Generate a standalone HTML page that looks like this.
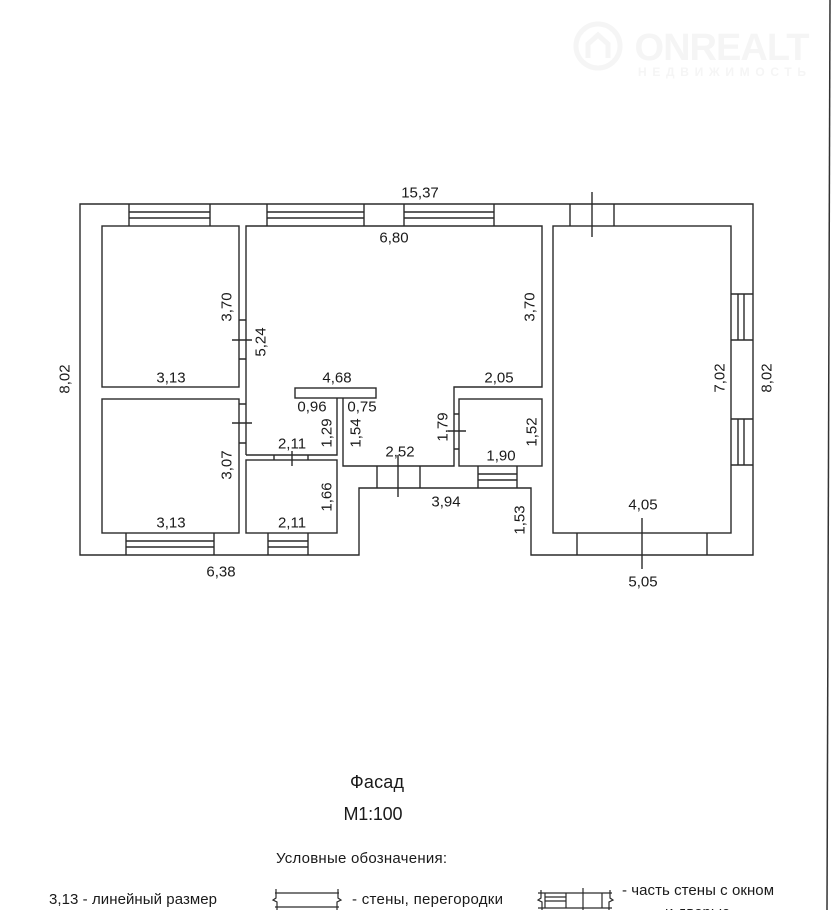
<!DOCTYPE html>
<html><head><meta charset="utf-8"><style>
html,body{margin:0;padding:0;background:#fff;}
svg{display:block;}
text{font-family:"Liberation Sans",Arial,sans-serif;fill:#1a1a1a;}
</style></head><body>
<svg width="835" height="910" viewBox="0 0 835 910" xmlns="http://www.w3.org/2000/svg">
<rect width="835" height="910" fill="#fff"/>
<!-- watermark -->
<g fill="none" stroke="#f5f5f5" stroke-width="5">
<circle cx="598" cy="46" r="22"/>
<path d="M588,58 V44 L598,35 L608,44 V58"/>
</g>
<text x="722" y="60" text-anchor="middle" font-size="38" font-weight="bold" style="fill:#f5f5f5" textLength="175">ONREALT</text>
<text x="722" y="76" text-anchor="middle" font-size="12" font-weight="bold" style="fill:#f5f5f5" textLength="168">НЕДВИЖИМОСТЬ</text>
<!-- right edge line -->
<line x1="830" y1="0" x2="827" y2="910" stroke="#333" stroke-width="1.5"/>

<g fill="none" stroke="#2a2a2a" stroke-width="1.4">
<!-- outer -->
<path d="M80,204 H753 V555 H531 V488 H359 V555 H80 Z"/>
<!-- rooms -->
<rect x="102" y="226" width="137" height="161"/>
<rect x="102" y="399" width="137" height="134"/>
<path d="M246,455 V226 H542 V387 H454 V466 H343 V398"/>
<path d="M337,398 V455 H246"/>
<rect x="295" y="388" width="81" height="10"/>
<rect x="459" y="399" width="83" height="67"/>
<rect x="246" y="460" width="91" height="73"/>
<rect x="553" y="226" width="178" height="307"/>
<!-- top windows -->
<path d="M129,204 V226 M210,204 V226 M129,212 H210 M129,218 H210"/>
<path d="M267,204 V226 M364,204 V226 M267,212 H364 M267,218 H364"/>
<path d="M404,204 V226 M494,204 V226 M404,212 H494 M404,218 H494"/>
<!-- top door -->
<path d="M570,204 V226 M614,204 V226 M592,192 V237"/>
<!-- right windows -->
<path d="M731,294 H753 M731,340 H753 M738,294 V340 M744,294 V340"/>
<path d="M731,419 H753 M731,465 H753 M738,419 V465 M744,419 V465"/>
<!-- bottom windows -->
<path d="M126,533 V555 M214,533 V555 M126,541 H214 M126,547 H214"/>
<path d="M268,533 V555 M308,533 V555 M268,541 H308 M268,547 H308"/>
<path d="M478,466 V488 M517,466 V488 M478,474 H517 M478,480 H517"/>
<!-- bottom opening right room -->
<path d="M577,533 V555 M707,533 V555 M642,518 V569"/>
<!-- passage door -->
<path d="M377,466 V488 M420,466 V488 M398,455 V497"/>
<!-- interior doors -->
<path d="M239,320 H246 M239,359 H246 M232,340 H252"/>
<path d="M239,404 H246 M239,443 H246 M232,423 H252"/>
<path d="M274,455 V460 M308,455 V460 M292,451 V466"/>
<path d="M454,414 H459 M454,449 H459 M448,431 H466"/>
</g>

<g font-size="15" text-anchor="middle" dominant-baseline="central">
<text x="420" y="193">15,37</text>
<text x="394" y="238">6,80</text>
<text x="227" y="307" transform="rotate(-90 227 307)">3,70</text>
<text x="261" y="342" transform="rotate(-90 261 342)">5,24</text>
<text x="530" y="307" transform="rotate(-90 530 307)">3,70</text>
<text x="171" y="378">3,13</text>
<text x="337" y="378">4,68</text>
<text x="499" y="378">2,05</text>
<text x="65" y="379" transform="rotate(-90 65 379)">8,02</text>
<text x="720" y="378" transform="rotate(-90 720 378)">7,02</text>
<text x="767" y="378" transform="rotate(-90 767 378)">8,02</text>
<text x="312" y="407">0,96</text>
<text x="362" y="407">0,75</text>
<text x="327" y="433" transform="rotate(-90 327 433)">1,29</text>
<text x="356" y="433" transform="rotate(-90 356 433)">1,54</text>
<text x="443" y="427" transform="rotate(-90 443 427)">1,79</text>
<text x="532" y="432" transform="rotate(-90 532 432)">1,52</text>
<text x="292" y="444">2,11</text>
<text x="400" y="452">2,52</text>
<text x="501" y="456">1,90</text>
<text x="227" y="465" transform="rotate(-90 227 465)">3,07</text>
<text x="327" y="497" transform="rotate(-90 327 497)">1,66</text>
<text x="446" y="502">3,94</text>
<text x="643" y="505">4,05</text>
<text x="520" y="520" transform="rotate(-90 520 520)">1,53</text>
<text x="292" y="523">2,11</text>
<text x="171" y="523">3,13</text>
<text x="221" y="572">6,38</text>
<text x="643" y="582">5,05</text>
</g>

<!-- titles -->
<text x="377" y="788" font-size="18" text-anchor="middle" textLength="54">Фасад</text>
<text x="373" y="820" font-size="18" text-anchor="middle" textLength="59">М1:100</text>
<text x="276" y="863" font-size="15" textLength="171">Условные обозначения:</text>

<!-- legend -->
<text x="49" y="904" font-size="15" textLength="168">3,13 - линейный размер</text>
<g fill="none" stroke="#2a2a2a" stroke-width="1.2">
<path d="M275,893 H339 M275,907 H339 M276,889 V898 L273,900 L277,902 V910 M338,889 V898 L341,900 L337,902 V910"/>
<path d="M538,893 H612 M538,908 H612 M541,890 V898 L538,900 L542,902 V910 M610,890 V898 L613,900 L609,902 V910"/>
<path d="M545,893 V908 M566,893 V908 M545,897 H566 M545,901 H566 M583,888 V910 M602,893 V908"/>
</g>
<text x="352" y="904" font-size="15" textLength="151">- стены, перегородки</text>
<text x="622" y="895" font-size="15" textLength="152">- часть стены с окном</text>
<text x="665" y="917" font-size="15" textLength="65">и дверью</text>
</svg>
</body></html>
